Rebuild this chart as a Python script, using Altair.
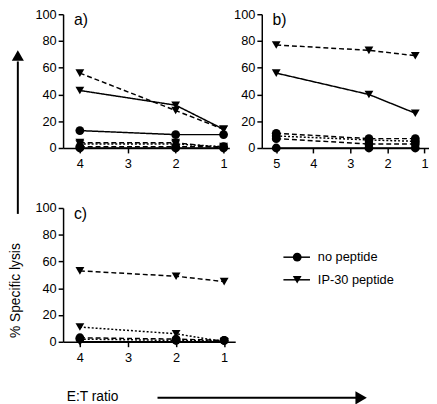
import altair as alt
import pandas as pd

FONT = "Liberation Sans"

# ---- data ----
# panel a) : E:T ratios 4, 2, 1
a_x = [4, 2, 1]
a_tri_solid = [43, 32, 14]
a_tri_dash = [56, 28, 14]
a_circ_solid = [13, 10, 10]
a_tri_dash2 = [4, 4, 0]
a_tri_dot = [3, 3, 1]
a_circ_dash = [1, 1, 1]
a_circ_zero = [0, 0, 0]

# panel b) : E:T ratios 5, 2.5, 1.25
b_x = [5, 2.5, 1.25]
b_tri_dash = [77, 73, 69]
b_tri_solid = [56, 40, 26]
b_circ_dash = [11, 7, 7]
b_circ_dot = [9, 6, 5]
b_circ_dash2 = [7, 3, 3]
b_circ_zero = [0, 0, 0]

# panel c) : E:T ratios 4, 2, 1
c_x = [4, 2, 1]
c_tri_dash = [53, 49, 45]
c_tri_dot = [11, 6, 0]
c_circ_dash = [3, 2, 1]
c_circ_dot = [2, 1, 1]
c_tri_zero = [0, 0, 0]

y_ticks = [0, 20, 40, 60, 80, 100]
a_ticks = [4, 3, 2, 1]
b_ticks = [5, 4, 3, 2, 1]
c_ticks = [4, 3, 2, 1]

legend_labels = ["no peptide", "IP-30 peptide"]


def build(xs, series):
    rows = []
    for sid, (marker, dash, ys) in enumerate(series):
        for x, y in zip(xs, ys):
            rows.append({"series": sid, "marker": marker, "dash": dash, "x": x, "y": y})
    return pd.DataFrame(rows)


df_a = build(a_x, [
    ("triangle", "solid", a_tri_solid),
    ("triangle", "dashed", a_tri_dash),
    ("circle", "solid", a_circ_solid),
    ("triangle", "dashed", a_tri_dash2),
    ("triangle", "dotted", a_tri_dot),
    ("circle", "dashed", a_circ_dash),
    ("circle", "solid", a_circ_zero),
])
df_b = build(b_x, [
    ("triangle", "dashed", b_tri_dash),
    ("triangle", "solid", b_tri_solid),
    ("circle", "dashed", b_circ_dash),
    ("circle", "dotted", b_circ_dot),
    ("circle", "dashed", b_circ_dash2),
    ("circle", "solid", b_circ_zero),
])
df_c = build(c_x, [
    ("triangle", "dashed", c_tri_dash),
    ("triangle", "dotted", c_tri_dot),
    ("circle", "dashed", c_circ_dash),
    ("circle", "dotted", c_circ_dot),
    ("triangle", "solid", c_tri_zero),
])

dash_scale = alt.Scale(domain=["solid", "dashed", "dotted"], range=[[1, 0], [5, 3], [2, 2]])
shape_scale = alt.Scale(domain=["circle", "triangle"], range=["circle", "triangle-down"])

one = pd.DataFrame({"k": [0]})


def panel(df, domain, ticks, width, label, extra=None):
    xenc = alt.X("x:Q", scale=alt.Scale(domain=domain, reverse=True, nice=False, zero=False),
                 axis=alt.Axis(values=ticks, format="d", title=None))
    yenc = alt.Y("y:Q", scale=alt.Scale(domain=[0, 100], nice=False),
                 axis=alt.Axis(values=y_ticks, title=None))
    base = alt.Chart(df)
    lines = base.mark_line(color="black", strokeWidth=1.5).encode(
        x=xenc, y=yenc, detail="series:N",
        strokeDash=alt.StrokeDash("dash:N", scale=dash_scale, legend=None),
    )
    pts = base.mark_point(filled=True, color="black", opacity=1, size=80).encode(
        x=xenc, y=yenc, detail="series:N",
        shape=alt.Shape("marker:N", scale=shape_scale, legend=None),
    )
    lab = alt.Chart(one).mark_text(font=FONT, fontSize=16, align="left", baseline="top",
                                   color="black").encode(
        x=alt.value(11), y=alt.value(-2), text=alt.value(label))
    layers = [lines, pts, lab] + (extra or [])
    return alt.layer(*layers).properties(width=width, height=136)


# annotations placed in panel c (coordinates relative to its plot area)
ann = [
    alt.Chart(one).mark_rule(color="black", strokeWidth=2).encode(
        x=alt.value(-46), y=alt.value(-149), y2=alt.value(6)),
    alt.Chart(one).mark_point(shape="triangle-up", filled=True, color="black", opacity=1,
                              size=150).encode(x=alt.value(-46), y=alt.value(-155)),
    alt.Chart(one).mark_text(font=FONT, fontSize=14, angle=270, align="center",
                             baseline="middle", color="black").encode(
        x=alt.value(-48), y=alt.value(84), text=alt.value("% Specific lysis")),
    alt.Chart(one).mark_text(font=FONT, fontSize=14, align="center", baseline="middle",
                             color="black").encode(
        x=alt.value(30), y=alt.value(192), text=alt.value("E:T ratio")),
    alt.Chart(one).mark_rule(color="black", strokeWidth=2).encode(
        x=alt.value(96), x2=alt.value(298), y=alt.value(193)),
    alt.Chart(one).mark_point(shape="triangle-right", filled=True, color="black", opacity=1,
                              size=180).encode(x=alt.value(303), y=alt.value(193)),
    # legend
    alt.Chart(one).mark_rule(color="black", strokeWidth=1.5).encode(
        x=alt.value(224), x2=alt.value(251), y=alt.value(50)),
    alt.Chart(one).mark_point(shape="circle", filled=True, color="black", opacity=1,
                              size=80).encode(x=alt.value(238), y=alt.value(50)),
    alt.Chart(one).mark_text(font=FONT, fontSize=13, align="left", baseline="middle",
                             color="black").encode(
        x=alt.value(259), y=alt.value(50), text=alt.value(legend_labels[0])),
    alt.Chart(one).mark_rule(color="black", strokeWidth=1.5).encode(
        x=alt.value(224), x2=alt.value(251), y=alt.value(73)),
    alt.Chart(one).mark_point(shape="triangle-down", filled=True, color="black", opacity=1,
                              size=80).encode(x=alt.value(238), y=alt.value(73)),
    alt.Chart(one).mark_text(font=FONT, fontSize=13, align="left", baseline="middle",
                             color="black").encode(
        x=alt.value(259), y=alt.value(73), text=alt.value(legend_labels[1])),
]

pa = panel(df_a, [0.88, 4.35], a_ticks, 169, "a)")
pb = panel(df_b, [0.88, 5.39], b_ticks, 170, "b)")
pc = panel(df_c, [0.77, 4.35], c_ticks, 175, "c)", ann)

chart = alt.concat(pa, pb, pc, columns=2, bounds="flush",
                   spacing={"row": 61, "column": 27}).properties(
    padding={"left": 1, "top": -3, "right": 0, "bottom": 0}
).configure_view(stroke=None).configure_axis(
    grid=False, domainColor="black", domainWidth=1.5, tickColor="black", tickWidth=1.5,
    tickSize=5, labelColor="black", labelFont=FONT, labelFontSize=13, labelPadding=2,
).configure_axisX(labelPadding=5)

chart.save("out.html", embed_options={"renderer": "svg", "actions": False})
